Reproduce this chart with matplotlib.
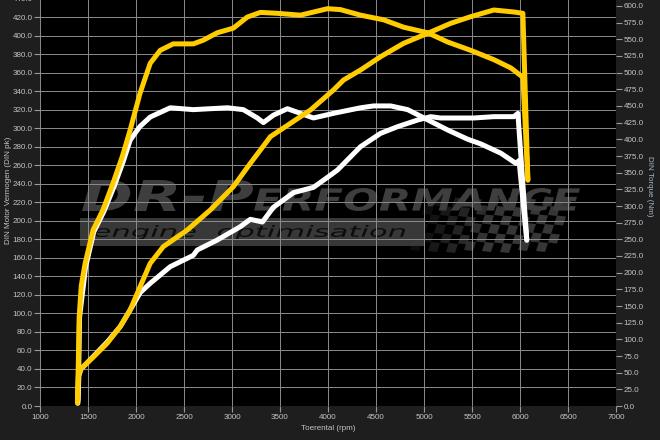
import matplotlib
matplotlib.use("Agg")
import matplotlib.pyplot as plt
from matplotlib.patches import Rectangle, PathPatch, Polygon
from matplotlib.textpath import TextPath
from matplotlib.font_manager import FontProperties
from matplotlib.transforms import Affine2D, IdentityTransform

# ---------------- data ----------------
tuned_power_rpm = [1390, 1400, 1408, 1430, 1470, 1553, 1657, 1762, 1856, 1908, 1939, 2043, 2148, 2252,
                   2388, 2597, 2701, 2847, 3014, 3160, 3296, 3473, 3713, 3995, 4130, 4339, 4579,
                   4788, 5038, 5247, 5487, 5727, 5905, 6030, 6082]
tuned_power_pk = [3, 50, 96, 130, 154, 190, 212, 241, 269, 287, 298, 338, 370, 384,
                  391, 391, 395, 403, 408, 420, 425, 424, 422, 429, 428, 422, 417,
                  409, 403, 393, 384, 374, 365, 355, 244]

stock_power_rpm = [1395, 1405, 1412, 1475, 1560, 1665, 1775, 1870, 1939, 2000, 2043, 2148, 2357,
                   2597, 2951, 3118, 3264, 3327, 3431, 3577, 3713, 3849, 4057, 4339, 4475,
                   4652, 4830, 5038, 5247, 5456, 5591, 5800, 5957, 5990, 6071]
stock_power_pk = [3, 50, 96, 150, 188, 210, 238, 265, 287, 296, 302, 312, 322,
                  320, 322, 320, 311, 306, 314, 321, 316, 311, 316, 322, 324,
                  324, 320, 309, 298, 288, 283, 273, 262, 265, 179]

tuned_torque_rpm = [1390, 1400, 1420, 1553, 1699, 1835, 1939, 2043, 2148, 2284, 2534, 2774, 3014,
                    3191, 3296, 3400, 3609, 3818, 4057, 4162, 4339, 4548, 4788, 5038, 5278,
                    5487, 5727, 5936, 6030, 6082]
tuned_torque_nm = [8, 45, 55, 73, 94, 119, 144, 179, 214, 239, 264, 294, 329,
                   364, 384, 404, 424, 444, 474, 489, 504, 524, 544, 559, 574,
                   584, 594, 591, 589, 339]

stock_torque_rpm = [1395, 1405, 1425, 1560, 1700, 1835, 1939, 2043, 2148, 2357, 2597, 2638, 2847,
                    3087, 3191, 3317, 3431, 3640, 3849, 3995, 4099, 4339, 4548, 4725, 4934,
                    5070, 5174, 5518, 5727, 5936, 5978, 6071]
stock_torque_nm = [8, 45, 55, 75, 96, 119, 144, 170, 184, 209, 226, 234, 249,
                   269, 280, 276, 298, 320, 328, 343, 354, 389, 409, 419, 429,
                   434, 432, 432, 434, 434, 439, 249]

x_ticks = list(range(1000, 7001, 500))
left_ticks = list(range(0, 441, 20))
right_ticks = [i * 25 for i in range(0, 25)]

# ---------------- style ----------------
YELLOW = "#FFCC00"
WHITE = "#FFFFFF"
BG = "#1e1e1e"
TXT = "#c4c4c4"
GRID = "#8c8c8c"
LW = 3.6
plt.rcParams["font.family"] = ["Liberation Sans", "DejaVu Sans"]

W, H = 660, 440
fig = plt.figure(figsize=(W / 100, H / 100), dpi=100, facecolor=BG)
ax = fig.add_axes([40 / W, 1 - 406 / H, 576 / W, 407.5 / H])
ax.set_facecolor("black")
ax2 = ax.twinx()

ax.set_xlim(1000, 7000)
ax.set_ylim(0, 440)
ax2.set_ylim(0, 611.25)

ax.set_xticks(x_ticks)
ax.set_xticklabels([str(v) for v in x_ticks])
ax.set_yticks(left_ticks)
ax.set_yticklabels([f"{v:.1f}" for v in left_ticks])
ax2.set_yticks(right_ticks)
ax2.set_yticklabels([f"{v:.1f}" for v in right_ticks])

for a in (ax, ax2):
    for s in a.spines.values():
        s.set_visible(False)
    a.tick_params(axis="both", colors="#9a9a9a", labelcolor=TXT, labelsize=5.8,
                  length=4, width=0.8, pad=1.5)

ax.grid(True, color=GRID, lw=0.7)
ax.set_axisbelow(True)   # grid at zorder 0.5

# ---------------- watermark (decoration, drawn inside the axes below the grid) ----------------
def pix_text(s, x0, x1, y_top, y_bot, color, z, weight="bold", style="italic"):
    fp = FontProperties(family="DejaVu Sans", weight=weight, style=style)
    tp = TextPath((0, 0), s, size=10, prop=fp)
    ext = tp.get_extents()
    sx = (x1 - x0) / ext.width
    sy = (y_bot - y_top) / ext.height
    tr = (Affine2D().translate(-ext.x0, -ext.y0).scale(sx, sy)
          .translate(x0, H - y_bot) + IdentityTransform())
    patch = PathPatch(tp, facecolor=color, edgecolor="none", transform=tr, zorder=z)
    ax.add_artist(patch)

cell = 9.0
for i in range(16):
    for j in range(6):
        if (i + j) % 2 == 0:
            continue
        x0 = 428 + i * cell - j * 3.0
        y0 = 196 + j * cell + 3.0 * ((i % 6) / 6.0)
        alpha = min(1.0, 0.25 + i / 10.0)
        poly = Polygon([(x0, H - y0), (x0 + cell, H - y0 - 1), (x0 + cell - 3, H - y0 - cell - 1),
                        (x0 - 3, H - y0 - cell)], closed=True, transform=IdentityTransform(),
                       facecolor="#363636", edgecolor="none", alpha=alpha, zorder=0.15)
        ax.add_artist(poly)

band = Rectangle((80, H - 246), 345, 28, transform=IdentityTransform(),
                 facecolor="#383838", edgecolor="none", zorder=0.2)
ax.add_artist(band)
pix_text("DR-P", 82, 253, 180, 211, "#3e3e3e", 0.3)
pix_text("ERFORMANCE", 254, 580, 188, 211, "#3e3e3e", 0.3)
pix_text("engine  optimisation", 94, 405, 225, 240, "#0c0c0c", 0.3, weight="normal",
         style="italic")

# ---------------- curves ----------------
kw = dict(lw=LW, solid_capstyle="round", solid_joinstyle="round", zorder=3)
ax.plot(stock_power_rpm, stock_power_pk, color=WHITE, **kw)
ax.plot(tuned_power_rpm, tuned_power_pk, color=YELLOW, **kw)
ax2.plot(stock_torque_rpm, stock_torque_nm, color=WHITE, **kw)
ax2.plot(tuned_torque_rpm, tuned_torque_nm, color=YELLOW, **kw)

ax.set_xlabel("Toerental (rpm)", color=TXT, fontsize=5.8)
ax.xaxis.set_label_coords(0.5, -(425 - 406) / 407.5)
ax.set_ylabel("DIN Motor Vermogen (DIN pk)", color=TXT, fontsize=5.8)
ax.yaxis.set_label_coords((12 - 40) / 576, (406 - 190) / 407.5)
ax2.set_ylabel("DIN Torque (Nm)", color="#a8b8cc", fontsize=5.8, rotation=270, va="center")
ax2.yaxis.set_label_coords((649 - 40) / 576, (406 - 186) / 407.5)

fig.savefig("out.png", dpi=100, facecolor=BG)
